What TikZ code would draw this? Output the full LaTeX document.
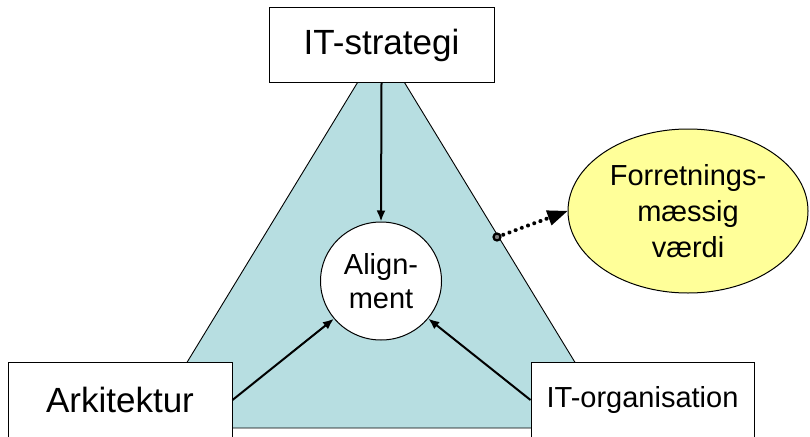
\documentclass[tikz,border=0pt]{standalone}
\usepackage{fontspec}
\setmainfont{Liberation Sans}
\usetikzlibrary{shapes.geometric,arrows.meta}
\definecolor{tri}{RGB}{183,222,225}
\definecolor{yel}{RGB}{255,255,153}
\tikzset{
  box/.style={draw=black,line width=1pt,fill=white,inner sep=0pt,minimum height=74pt},
  big/.style={font=\fontsize{35}{40}\selectfont},
  small/.style={font=\fontsize{29}{34}\selectfont},
  arr/.style={line width=2pt,-{Latex[length=11pt,width=9pt]}},
}
\begin{document}
\begin{tikzpicture}[x=1pt,y=-1pt]
\useasboundingbox (0,0) rectangle (810,436);
% triangle
\fill[tri] (381,44) -- (147,428) -- (615,428) -- cycle;
\draw[line width=0.9pt] (381,44) -- (147,428) -- (615,428) -- cycle;
% nodes
\node[box,big,minimum width=225pt] (strat) at (381.5,45) {IT-strategi};
\node[box,big,minimum width=224pt,minimum height=76pt] (arch) at (120,400) {Arkitektur};
\node[box,small,minimum width=223pt,minimum height=76pt] (org) at (642.5,400) {IT-organisation};
\node[ellipse,draw=black,line width=1pt,fill=white,minimum width=121pt,minimum height=118pt,inner sep=0pt,align=center,font=\fontsize{29}{34}\selectfont] (align) at (381,281) {Align-\\ment};
\node[ellipse,draw=black,line width=1pt,fill=yel,minimum width=240pt,minimum height=164pt,inner sep=0pt,align=center,font=\fontsize{29}{36}\selectfont] (val) at (688,211) {Forretnings-\\mæssig\\værdi};
% arrows
\draw[arr] (strat.south) -- (align.north);
\draw[arr] (arch.east) -- (align);
\draw[arr] (org.west) -- (align);
\coordinate (d) at (497,237);
\draw[line width=4pt,line cap=round,dash pattern=on 0.1pt off 6.5pt,-{Triangle[length=20pt,width=16pt,line width=0pt,line cap=butt]}] (d) -- (val.west);
\draw[line width=2.2pt,fill=black!50] (d) circle (3.5pt);
\end{tikzpicture}
\end{document}
